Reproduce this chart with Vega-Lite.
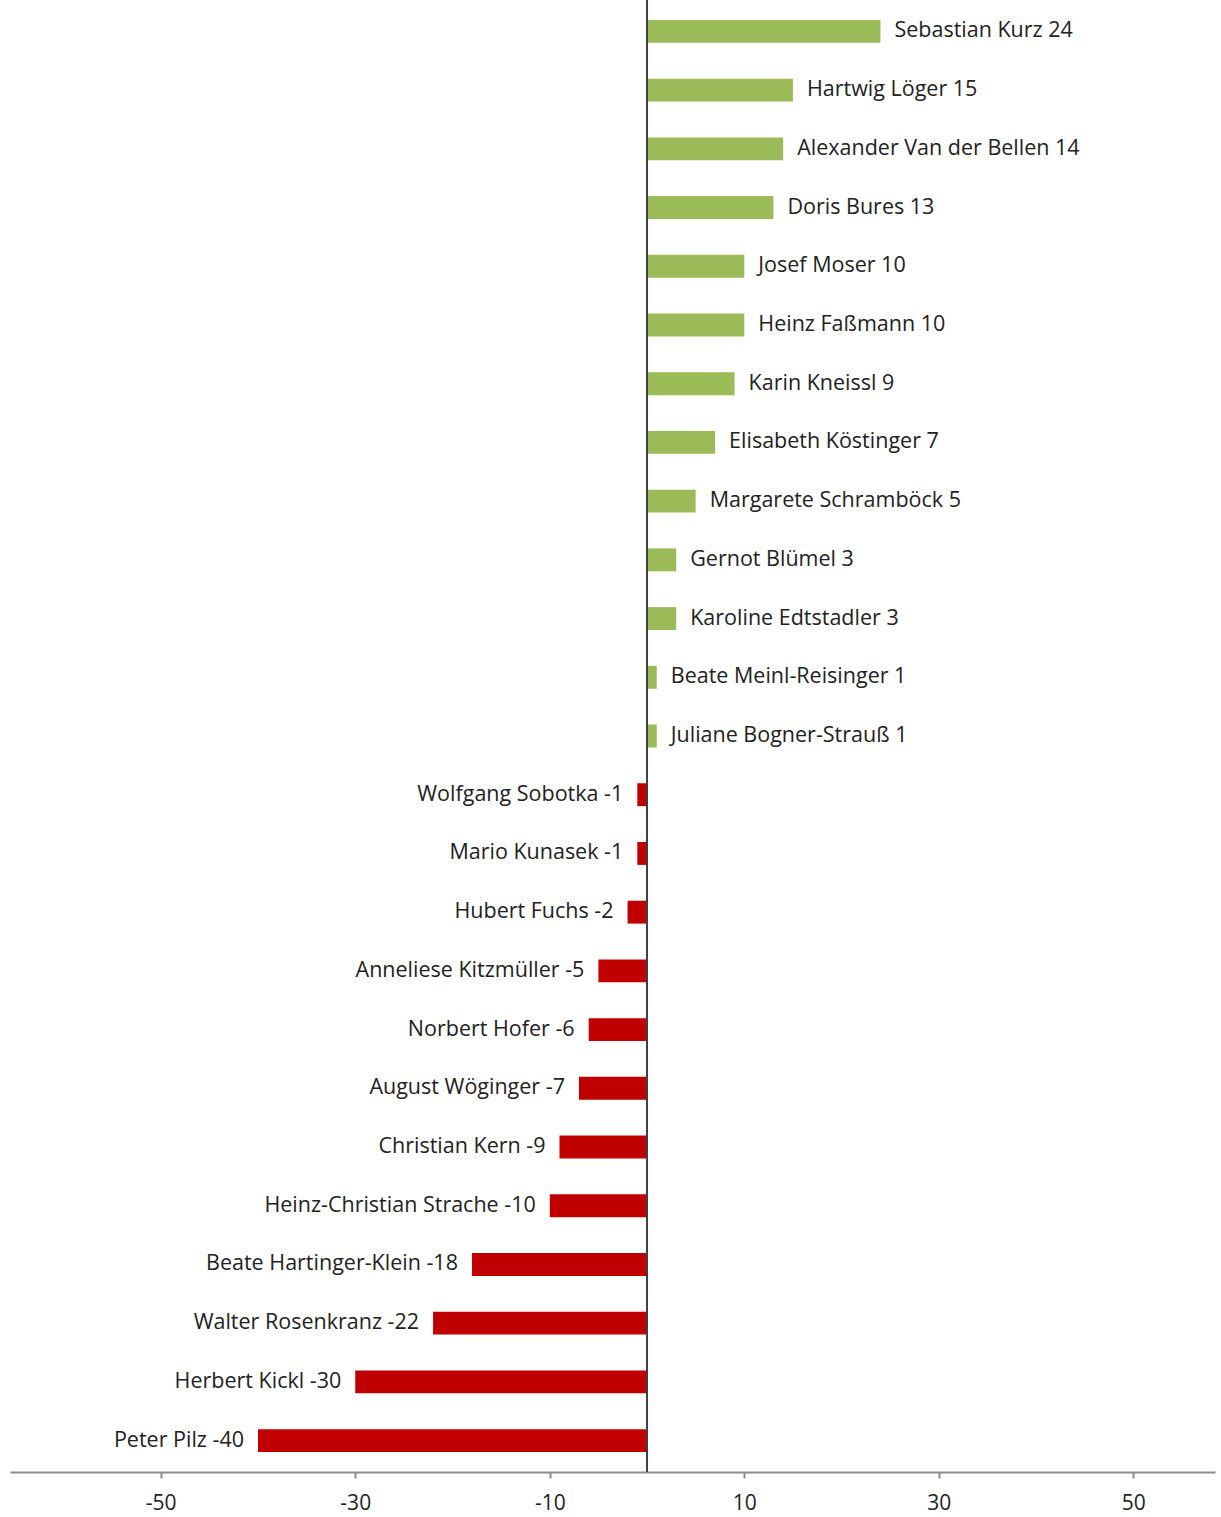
{
  "$schema": "https://vega.github.io/schema/vega-lite/v6.json",
  "autosize": "none",
  "width": 1205,
  "height": 1472,
  "padding": {"left": 10, "top": 0, "right": 6, "bottom": 45},
  "background": "white",
  "config": {"view": {"stroke": null}, "font": "Open Sans"},
  "data": {"values": [
    {"name": "Sebastian Kurz", "value": 24, "label": "Sebastian Kurz 24", "sign": "pos"},
    {"name": "Hartwig Löger", "value": 15, "label": "Hartwig Löger 15", "sign": "pos"},
    {"name": "Alexander Van der Bellen", "value": 14, "label": "Alexander Van der Bellen 14", "sign": "pos"},
    {"name": "Doris Bures", "value": 13, "label": "Doris Bures 13", "sign": "pos"},
    {"name": "Josef Moser", "value": 10, "label": "Josef Moser 10", "sign": "pos"},
    {"name": "Heinz Faßmann", "value": 10, "label": "Heinz Faßmann 10", "sign": "pos"},
    {"name": "Karin Kneissl", "value": 9, "label": "Karin Kneissl 9", "sign": "pos"},
    {"name": "Elisabeth Köstinger", "value": 7, "label": "Elisabeth Köstinger 7", "sign": "pos"},
    {"name": "Margarete Schramböck", "value": 5, "label": "Margarete Schramböck 5", "sign": "pos"},
    {"name": "Gernot Blümel", "value": 3, "label": "Gernot Blümel 3", "sign": "pos"},
    {"name": "Karoline Edtstadler", "value": 3, "label": "Karoline Edtstadler 3", "sign": "pos"},
    {"name": "Beate Meinl-Reisinger", "value": 1, "label": "Beate Meinl-Reisinger 1", "sign": "pos"},
    {"name": "Juliane Bogner-Strauß", "value": 1, "label": "Juliane Bogner-Strauß 1", "sign": "pos"},
    {"name": "Wolfgang Sobotka", "value": -1, "label": "Wolfgang Sobotka -1", "sign": "neg"},
    {"name": "Mario Kunasek", "value": -1, "label": "Mario Kunasek -1", "sign": "neg"},
    {"name": "Hubert Fuchs", "value": -2, "label": "Hubert Fuchs -2", "sign": "neg"},
    {"name": "Anneliese Kitzmüller", "value": -5, "label": "Anneliese Kitzmüller -5", "sign": "neg"},
    {"name": "Norbert Hofer", "value": -6, "label": "Norbert Hofer -6", "sign": "neg"},
    {"name": "August Wöginger", "value": -7, "label": "August Wöginger -7", "sign": "neg"},
    {"name": "Christian Kern", "value": -9, "label": "Christian Kern -9", "sign": "neg"},
    {"name": "Heinz-Christian Strache", "value": -10, "label": "Heinz-Christian Strache -10", "sign": "neg"},
    {"name": "Beate Hartinger-Klein", "value": -18, "label": "Beate Hartinger-Klein -18", "sign": "neg"},
    {"name": "Walter Rosenkranz", "value": -22, "label": "Walter Rosenkranz -22", "sign": "neg"},
    {"name": "Herbert Kickl", "value": -30, "label": "Herbert Kickl -30", "sign": "neg"},
    {"name": "Peter Pilz", "value": -40, "label": "Peter Pilz -40", "sign": "neg"}
  ]},
  "encoding": {
    "y": {"field": "name", "type": "nominal", "sort": null, "axis": null,
          "scale": {"paddingInner": 0.61, "paddingOuter": 0.34}},
    "x": {"field": "value", "type": "quantitative",
          "scale": {"domain": [-65.5, 58.4], "nice": false, "zero": false},
          "axis": {"title": null, "values": [-50, -30, -10, 10, 30, 50], "grid": false,
                   "labelExpr": "datum.value < 0 ? '-' + abs(datum.value) : '' + datum.value",
                   "domainColor": "#8c8c8c", "domainWidth": 2, "tickColor": "#8c8c8c", "tickWidth": 2, "tickSize": 6,
                   "labelFontSize": 21, "labelColor": "#222222", "labelPadding": 14, "labelFont": "Open Sans"}}
  },
  "layer": [
    {"mark": {"type": "bar"},
     "encoding": {"color": {"field": "sign", "type": "nominal", "legend": null,
                            "scale": {"domain": ["pos", "neg"], "range": ["#9BBB59", "#C00000"]}}}},
    {"transform": [{"filter": "datum.value > 0"}],
     "mark": {"type": "text", "align": "left", "baseline": "middle", "dx": 14, "fontSize": 21.5, "color": "#222222"},
     "encoding": {"text": {"field": "label"}}},
    {"transform": [{"filter": "datum.value < 0"}],
     "mark": {"type": "text", "align": "right", "baseline": "middle", "dx": -14, "fontSize": 21.5, "color": "#222222"},
     "encoding": {"text": {"field": "label"}}},
    {"data": {"values": [{"z": 0}]},
     "mark": {"type": "rule", "color": "#404040", "strokeWidth": 2},
     "encoding": {"x": {"field": "z", "type": "quantitative"}, "y": null}}
  ]
}
